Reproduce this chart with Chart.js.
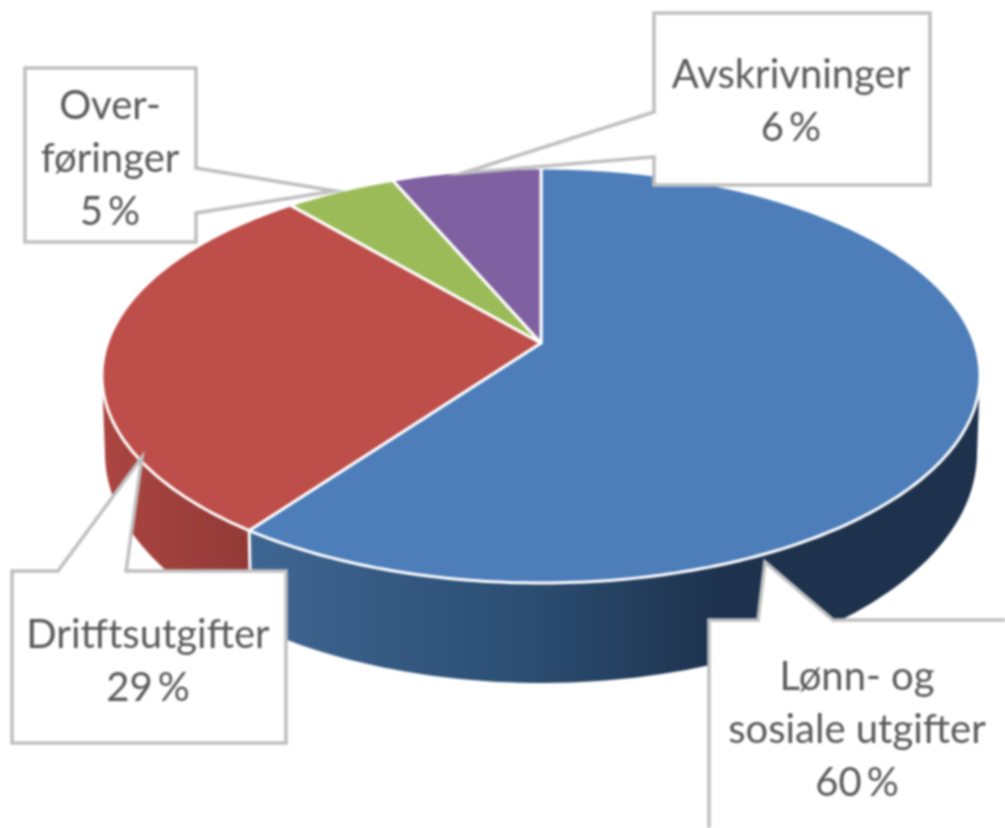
<!DOCTYPE html>
<html>
<head>
<meta charset="utf-8">
<title>Utgifter</title>
<script src="https://cdn.jsdelivr.net/npm/chart.js@4"></script>
<style>
    html, body { margin: 0; padding: 0; background: #fff; overflow: hidden; }
    #pie { display: block; filter: blur(0.8px); }
</style>
</head>
<body>
<canvas id="pie" width="1005" height="828"></canvas>
<script>
// values, labels round them to 60, 29, 5, 6
const categories = ["Lønn- og sosiale utgifter", "Dritftsutgifter", "Overføringer", "Avskrivninger"];
const shares = [60, 28.8, 4.8, 6.4];
const sliceColors = ["#4d7eba", "#bd4e4a", "#9bbb59", "#7f60a0"];
const labelLines = [
    ["Lønn- og", "sosiale utgifter"],
    ["Dritftsutgifter"],
    ["Over-", "føringer"],
    ["Avskrivninger"],
];

// perspective of the disc: circle -> screen
const CX = 541, APEX_Y = 343, R = 433.6, VA = 148.7, VC = -0.1566;
const BOTTOM = { a: 436, b: 230, cy: 453, topA: 439 };

// callouts: box + wedge to the slice
const callouts = [
    { x: 709, y: 620, w: 340, h: 260, tip: [765, 562], base: [[833, 620], [758, 620]], textX: 857, textY: 677 },
    { x: 12, y: 571, w: 274, h: 172, tip: [142, 457], base: [[58, 571], [126, 571]], textX: 148, textY: 635 },
    { x: 25, y: 68, w: 171, h: 174, tip: [335, 191], base: [[196, 168], [196, 213]], textX: 110, textY: 106 },
    { x: 654, y: 13, w: 276, h: 172, tip: [463, 173], base: [[654, 112], [654, 157]], textX: 791, textY: 75 },
];

function project(phi) {
    const u = Math.sin(phi), v = -Math.cos(phi);
    const d = 1 + VC * v;
    return [CX + R * u / d, (VA * v + APEX_Y) / d];
}

function bottomPoint(phi) {
    const p = project(phi);
    const dx = (p[0] - CX) * BOTTOM.a / BOTTOM.topA;
    const k = Math.sqrt(Math.max(0, 1 - (dx / BOTTOM.a) * (dx / BOTTOM.a)));
    return [CX + dx, BOTTOM.cy + BOTTOM.b * k];
}

function toPhi(angle) {
    return angle + Math.PI / 2;
}

function drawSide(ctx, from, to, grad) {
    const steps = 80;
    ctx.beginPath();
    for (let i = 0; i <= steps; i++) {
        const p = project(from + (to - from) * i / steps);
        if (i == 0) ctx.moveTo(p[0], p[1]); else ctx.lineTo(p[0], p[1]);
    }
    for (let i = steps; i >= 0; i--) {
        const p = bottomPoint(from + (to - from) * i / steps);
        ctx.lineTo(p[0], p[1]);
    }
    ctx.closePath();
    ctx.fillStyle = grad;
    ctx.fill();
}

function sideFill(ctx, index) {
    let g;
    if (index == 0) {
        g = ctx.createLinearGradient(250, 0, 720, 0);
        g.addColorStop(0, "#3f6692");
        g.addColorStop(0.6, "#2b4d71");
        g.addColorStop(1, "#1e324d");
    } else {
        g = ctx.createLinearGradient(104, 0, 250, 0);
        g.addColorStop(0, "#ab4541");
        g.addColorStop(1, "#923a37");
    }
    return g;
}

const pie3d = {
    id: "pie3d",
    beforeDatasetsDraw(chart) {
        const ctx = chart.ctx;
        const arcs = chart.getDatasetMeta(0).data;
        // visible part of the wall is between the two tangent points of the rim
        const tangent = Math.acos(VC);
        const wallFrom = tangent, wallTo = 2 * Math.PI - tangent;

        ctx.save();
        arcs.forEach((arc, i) => {
            const from = Math.max(toPhi(arc.startAngle), wallFrom);
            const to = Math.min(toPhi(arc.endAngle), wallTo);
            if (to > from) drawSide(ctx, from, to, sideFill(ctx, i));
        });

        // seam between the two walls
        const seam = toPhi(arcs[0].endAngle);
        const a = project(seam), b = bottomPoint(seam);
        ctx.strokeStyle = "#fff";
        ctx.lineWidth = 3;
        ctx.beginPath();
        ctx.moveTo(a[0], a[1]);
        ctx.lineTo(b[0], b[1]);
        ctx.stroke();

        // top of the disc
        arcs.forEach((arc) => {
            const from = toPhi(arc.startAngle), to = toPhi(arc.endAngle);
            const steps = Math.ceil((to - from) * 60);
            ctx.beginPath();
            ctx.moveTo(CX, APEX_Y);
            for (let i = 0; i <= steps; i++) {
                const p = project(from + (to - from) * i / steps);
                ctx.lineTo(p[0], p[1]);
            }
            ctx.closePath();
            ctx.fillStyle = arc.options.backgroundColor;
            ctx.fill();
            ctx.strokeStyle = "#fff";
            ctx.lineWidth = 3;
            ctx.lineJoin = "round";
            ctx.stroke();
        });
        ctx.restore();
        return false; // the flat pie itself is not drawn
    },
    afterDraw(chart) {
        const ctx = chart.ctx;
        ctx.save();
        callouts.forEach((c, i) => {
            ctx.beginPath();
            ctx.rect(c.x, c.y, c.w, c.h);
            ctx.fillStyle = "#fff";
            ctx.fill();
            ctx.strokeStyle = "#bfbfbf";
            ctx.lineWidth = 3.5;
            ctx.stroke();

            // wedge fill, wipes the box edge under it
            ctx.beginPath();
            ctx.moveTo(c.base[0][0], c.base[0][1]);
            ctx.lineTo(c.tip[0], c.tip[1]);
            ctx.lineTo(c.base[1][0], c.base[1][1]);
            ctx.closePath();
            ctx.fill();
            ctx.strokeStyle = "#fff";
            ctx.lineWidth = 4;
            ctx.beginPath();
            ctx.moveTo(c.base[0][0], c.base[0][1]);
            ctx.lineTo(c.base[1][0], c.base[1][1]);
            ctx.stroke();

            ctx.beginPath();
            ctx.moveTo(c.base[0][0], c.base[0][1]);
            ctx.lineTo(c.tip[0], c.tip[1]);
            ctx.lineTo(c.base[1][0], c.base[1][1]);
            ctx.strokeStyle = "#bfbfbf";
            ctx.lineWidth = 3.5;
            ctx.lineJoin = "miter";
            ctx.lineCap = "square";
            ctx.stroke();
            ctx.lineCap = "butt";

            ctx.fillStyle = "#595959";
            ctx.font = "40px Lato";
            ctx.textAlign = "center";
            ctx.textBaseline = "middle";
            const lines = labelLines[i].concat(Math.round(shares[i]) + "\u2009%");
            lines.forEach((line, n) => ctx.fillText(line, c.textX, c.textY + n * 53));
        });
        ctx.restore();
    },
};

new Chart(document.getElementById("pie"), {
    type: "pie",
    data: {
        labels: categories,
        datasets: [{ data: shares, backgroundColor: sliceColors }],
    },
    options: {
        responsive: false,
        animation: false,
        plugins: { legend: { display: false }, tooltip: { enabled: false } },
    },
    plugins: [pie3d],
});
</script>
</body>
</html>
